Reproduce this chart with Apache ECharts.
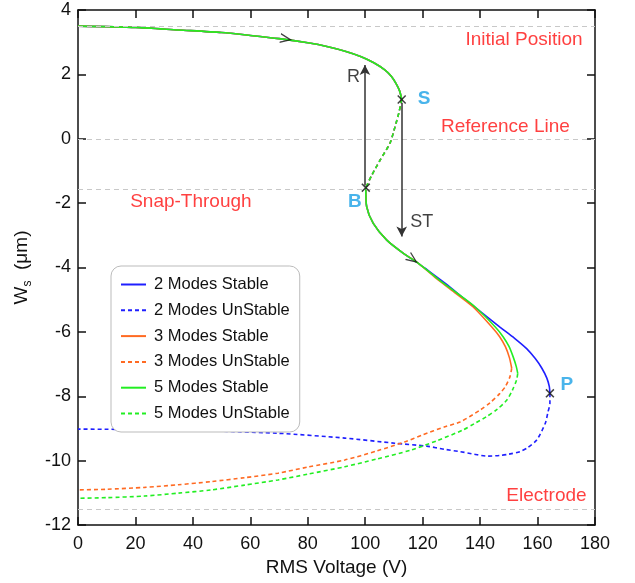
<!DOCTYPE html>
<html>
<head>
<meta charset="utf-8">
<script src="https://cdn.jsdelivr.net/npm/echarts@6/dist/echarts.min.js"></script>
<style>
    html, body { margin: 0; padding: 0; background: #fff; }
    #chart { width: 635px; height: 583px; }
</style>
</head>
<body>
<div id="chart"></div>
<script>
// ---- data: [RMS voltage (V), Ws (um)] ----
var upperStable = [[0, 3.5], [20, 3.46], [35, 3.38], [50, 3.3], [60, 3.21], [70, 3.11], [80, 2.98],
    [87, 2.86], [93, 2.72], [98.6, 2.55], [103, 2.36], [106.8, 2.14], [109, 1.95], [110.7, 1.72],
    [112, 1.48], [112.7, 1.22]];
var middleUnstable = [[112.7, 1.22], [111.7, 0.8], [110.4, 0.38], [108.6, -0.14], [105.2, -0.66],
    [102.3, -1.13], [100.2, -1.52]];
var lowerStable2 = [[100.2, -1.52], [100.5, -2.11], [102.8, -2.63], [107.5, -3.15], [113.3, -3.56],
    [118.5, -3.87], [121.4, -4.06], [128, -4.5], [135.3, -5.03], [141, -5.43], [146.9, -5.85],
    [152, -6.2], [156.2, -6.52], [159.2, -6.83], [161.5, -7.13], [163.2, -7.43], [164.1, -7.7],
    [164.3, -7.91]];
var lowerStable3 = [[100.2, -1.52], [100.5, -2.11], [102.8, -2.63], [107.5, -3.15], [113.3, -3.56],
    [118.5, -3.87], [125.5, -4.39], [131.5, -4.8], [137.5, -5.22], [144, -5.84], [146.8, -6.15],
    [148.8, -6.46], [150.2, -6.8], [151, -7.13]];
var lowerStable5 = [[100.2, -1.52], [100.5, -2.11], [102.8, -2.63], [107.5, -3.15], [113.3, -3.56],
    [118.5, -3.87], [125.8, -4.39], [132, -4.8], [138.2, -5.22], [145.2, -5.84], [148, -6.15],
    [150.1, -6.46], [151.6, -6.8], [152.6, -7.08], [153.1, -7.29]];
var lowerUnstable2 = [[164.3, -7.91], [164.3, -8.22], [163.6, -8.5], [162.7, -8.84], [159.7, -9.36],
    [156.5, -9.6], [153.9, -9.72], [150, -9.8], [146.9, -9.84], [142.5, -9.86], [138, -9.8],
    [133, -9.72], [127.7, -9.65], [121.4, -9.55], [110.3, -9.46], [92.9, -9.3], [69.6, -9.15],
    [34.8, -9.05], [0, -9.02]];
var lowerUnstable3 = [[151, -7.13], [150.4, -7.39], [148.8, -7.7], [146.9, -7.91], [143.5, -8.2],
    [140, -8.43], [133, -8.8], [127.7, -8.95], [120, -9.2], [113.7, -9.42], [104, -9.7],
    [92.9, -9.98], [80, -10.2], [69.6, -10.39], [58, -10.53], [46.4, -10.65], [35, -10.75],
    [23.2, -10.83], [10, -10.89], [0, -10.91]];
var lowerUnstable5 = [[153.1, -7.29], [152.7, -7.49], [151.3, -7.8], [149.3, -8.12], [146, -8.4],
    [142.3, -8.63], [138, -8.85], [134, -9.05], [125, -9.38], [116, -9.67], [104, -9.95],
    [92.9, -10.19], [80, -10.42], [69.6, -10.6], [58, -10.76], [46.4, -10.91], [35, -11.01],
    [23.2, -11.1], [10, -11.15], [0, -11.17]];

var refLevels = [3.5, 0, -1.58, -11.5];
var zoneNames = ['Initial Position', 'Reference Line', 'Snap-Through', 'Electrode'];
var zonePos = [[155.3, 3.09], [148.8, 0.38], [39.3, -1.96], [163.1, -11.1]];
var pointNames = ['S', 'B', 'P'];
var pointPos = [[112.7, 1.22], [100.2, -1.52], [164.3, -7.91]];
var pointLabelPos = [[120.5, 1.24], [96.4, -1.96], [170.2, -7.63]];
var jumpNames = ['R', 'ST'];
var jumpFrom = [[99.9, -1.45], [112.7, 1.12]];
var jumpTo = [[99.9, 2.29], [112.7, -3.04]];
var jumpLabelPos = [[95.9, 1.93], [119.7, -2.58]];
var chevronPos = [[72.5, 3.1], [116.6, -3.75]];
var chevronAngle = [-9, -36];

var legendNames = ['2 Modes Stable', '2 Modes UnStable', '3 Modes Stable', '3 Modes UnStable',
    '5 Modes Stable', '5 Modes UnStable'];

var blue = '#1f1fff', orange = '#ff6a22', green = '#22ee22';
var font = 'Liberation Sans, Arial, sans-serif';

function curve(name, data, color, dashed) {
    return {
        name: name,
        type: 'line',
        data: data,
        symbol: 'none',
        smooth: 0.25,
        color: color,
        lineStyle: {color: color, width: 1.6, type: dashed ? [4, 3] : 'solid'},
        silent: true
    };
}

function textPoints(names, pos) {
    return names.map(function (n, i) {
        return {name: n, value: pos[i]};
    });
}

var tickStyle = {show: true, inside: true, length: 8, lineStyle: {color: '#111', width: 1.5}};
var frameStyle = {show: true, onZero: false, lineStyle: {color: '#111', width: 1.5}};

var myChart = echarts.init(document.getElementById('chart'));

var option = {
    animation: false,
    grid: {left: 78, right: 40, top: 10, bottom: 58},
    legend: {
        data: legendNames,
        orient: 'vertical',
        left: 111,
        top: 266,
        itemWidth: 25,
        itemHeight: 14,
        itemGap: 8.8,
        padding: [10, 10, 10, 9],
        borderColor: '#bbb',
        borderWidth: 1,
        borderRadius: 10,
        backgroundColor: '#fff',
        itemStyle: {opacity: 0},
        textStyle: {fontSize: 16.5, color: '#111', fontFamily: font, padding: [0, 0, 0, 3]},
        selectedMode: false
    },
    xAxis: [
        {
            type: 'value', position: 'bottom', min: 0, max: 180, interval: 20,
            name: 'RMS Voltage (V)',
            nameLocation: 'middle',
            nameGap: 31,
            nameTextStyle: {fontSize: 19, color: '#111', fontFamily: font},
            axisLine: frameStyle,
            axisTick: tickStyle,
            axisLabel: {fontSize: 18, color: '#111', margin: 10, fontFamily: font},
            splitLine: {show: false}
        },
        {
            type: 'value', position: 'top', min: 0, max: 180, interval: 20,
            axisLine: frameStyle,
            axisTick: tickStyle,
            axisLabel: {show: false},
            splitLine: {show: false}
        }
    ],
    yAxis: [
        {
            type: 'value', position: 'left', min: -12, max: 4, interval: 2,
            name: '{w|W}{s|s}{w|  (μm)}',
            nameLocation: 'middle',
            nameRotate: 90,
            nameGap: 46,
            nameTextStyle: {
                color: '#111',
                fontFamily: font,
                rich: {
                    w: {fontSize: 19, color: '#111', fontFamily: font},
                    s: {fontSize: 12, color: '#111', fontFamily: font, verticalAlign: 'bottom', padding: [0, 0, -3, 0]}
                }
            },
            axisLine: frameStyle,
            axisTick: tickStyle,
            axisLabel: {fontSize: 18, color: '#111', margin: 7, fontFamily: font},
            splitLine: {show: false}
        },
        {
            type: 'value', position: 'right', min: -12, max: 4, interval: 2,
            axisLine: frameStyle,
            axisTick: tickStyle,
            axisLabel: {show: false},
            splitLine: {show: false}
        }
    ],
    series: [
        curve('2 Modes Stable', upperStable, blue, false),
        curve('2 Modes Stable', lowerStable2, blue, false),
        curve('2 Modes UnStable', middleUnstable, blue, true),
        curve('2 Modes UnStable', lowerUnstable2, blue, true),
        curve('3 Modes Stable', upperStable, orange, false),
        curve('3 Modes Stable', lowerStable3, orange, false),
        curve('3 Modes UnStable', middleUnstable, orange, true),
        curve('3 Modes UnStable', lowerUnstable3, orange, true),
        curve('5 Modes Stable', upperStable, green, false),
        curve('5 Modes Stable', lowerStable5, green, false),
        curve('5 Modes UnStable', middleUnstable, green, true),
        curve('5 Modes UnStable', lowerUnstable5, green, true),
        {
            // zone labels + dashed reference lines
            type: 'scatter',
            symbolSize: 0,
            silent: true,
            data: textPoints(zoneNames, zonePos),
            label: {show: true, position: 'inside', formatter: '{b}', color: '#ff1010', fontSize: 19, fontFamily: font},
            markLine: {
                silent: true,
                symbol: 'none',
                label: {show: false},
                lineStyle: {color: '#c8c8c8', width: 1, type: [5, 4]},
                data: refLevels.map(function (v) {
                    return {yAxis: v};
                })
            }
        },
        {
            // S, B, P crosses
            type: 'scatter',
            symbol: 'path://M0,1.2L1.2,0L5,3.8L8.8,0L10,1.2L6.2,5L10,8.8L8.8,10L5,6.2L1.2,10L0,8.8L3.8,5Z',
            symbolSize: 9,
            itemStyle: {color: '#111'},
            silent: true,
            z: 5,
            data: pointPos
        },
        {
            type: 'scatter',
            symbolSize: 0,
            silent: true,
            data: textPoints(pointNames, pointLabelPos),
            label: {show: true, position: 'inside', formatter: '{b}', color: '#1ba1e6', fontSize: 19, fontWeight: 'bold', fontFamily: font}
        },
        {
            // jump arrows R and ST
            type: 'scatter',
            symbolSize: 0,
            silent: true,
            data: textPoints(jumpNames, jumpLabelPos),
            label: {show: true, position: 'inside', formatter: '{b}', color: '#111', fontSize: 18, fontFamily: font},
            markLine: {
                silent: true,
                symbol: ['none', 'arrow'],
                symbolSize: [8, 10],
                label: {show: false},
                lineStyle: {color: '#333', width: 1.5, type: 'solid'},
                data: jumpFrom.map(function (p, i) {
                    return [{coord: p}, {coord: jumpTo[i]}];
                })
            }
        },
        {
            // direction chevrons on the curve
            type: 'scatter',
            symbol: 'path://M0,0L10,5L0,10L0,8.6L7.2,5L0,1.4Z',
            symbolSize: [12, 10],
            itemStyle: {color: '#111'},
            silent: true,
            z: 5,
            data: chevronPos.map(function (p, i) {
                return {value: p, symbolRotate: chevronAngle[i]};
            })
        }
    ]
};

myChart.setOption(option);
</script>
</body>
</html>
